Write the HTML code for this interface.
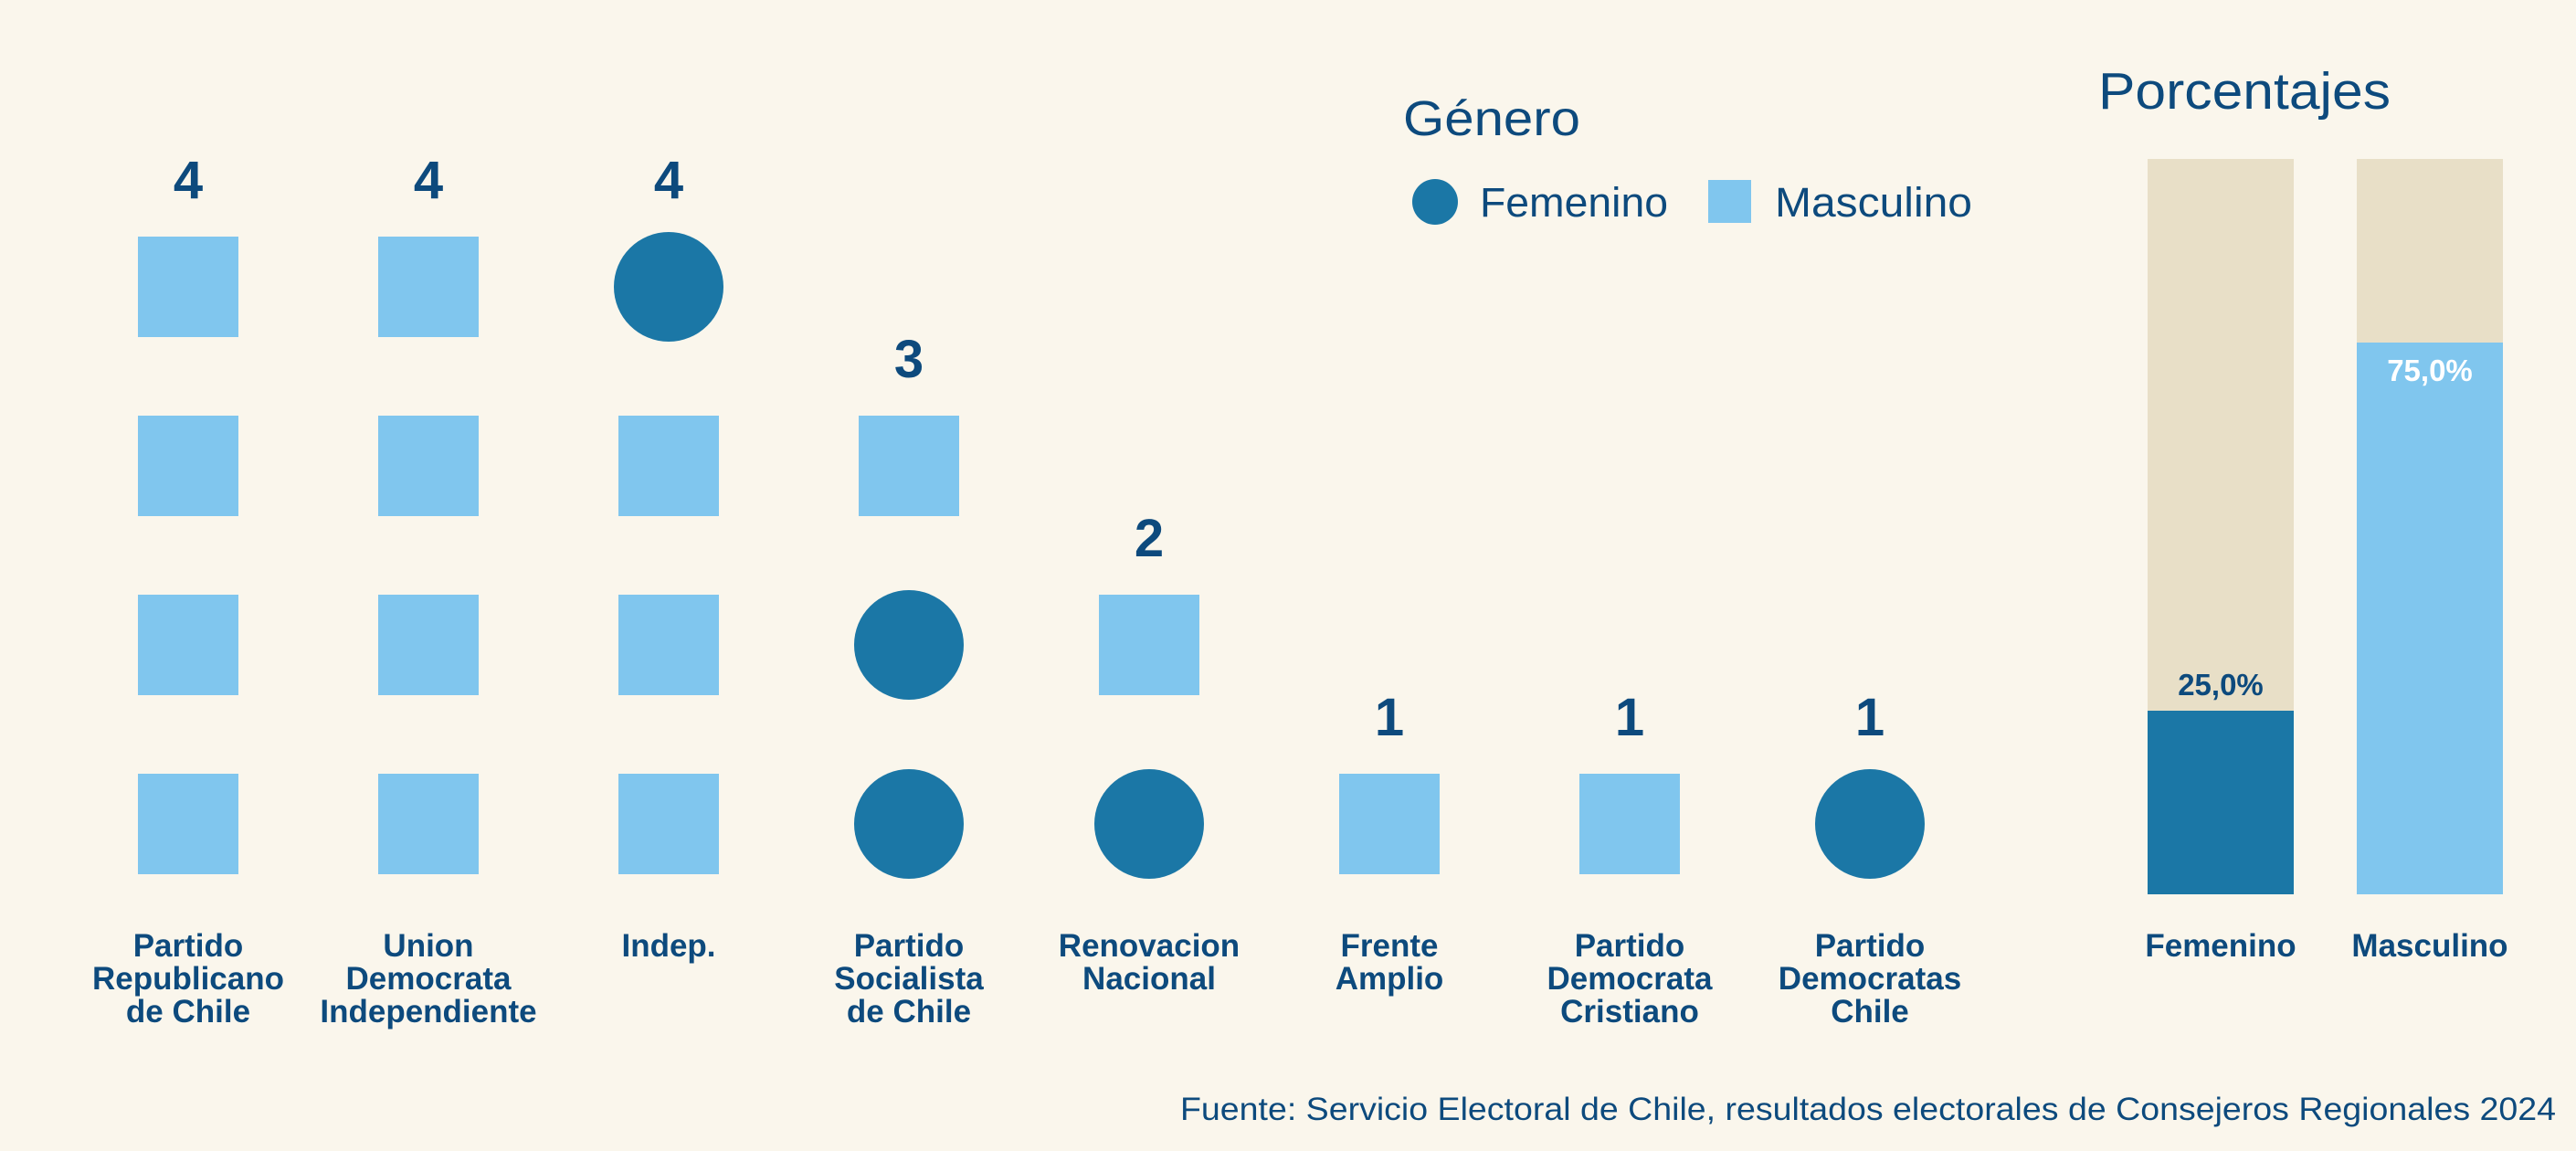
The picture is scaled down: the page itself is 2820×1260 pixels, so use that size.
<!DOCTYPE html>
<html><head><meta charset="utf-8"><style>
html,body{margin:0;padding:0;background:#faf6ec;}
svg{display:block;}
text{font-family:"Liberation Sans",sans-serif;fill:#0d4a7d;}
.b{font-weight:bold;}
</style></head><body>
<svg width="2820" height="1260" viewBox="0 0 2820 1260" xmlns="http://www.w3.org/2000/svg">
<rect width="2820" height="1260" fill="#faf6ec"/>
<g fill="#80c6ee">
<rect x="151" y="259" width="110" height="110"/><rect x="151" y="455" width="110" height="110"/><rect x="151" y="651" width="110" height="110"/><rect x="151" y="847" width="110" height="110"/>
<rect x="414" y="259" width="110" height="110"/><rect x="414" y="455" width="110" height="110"/><rect x="414" y="651" width="110" height="110"/><rect x="414" y="847" width="110" height="110"/>
<rect x="677" y="455" width="110" height="110"/><rect x="677" y="651" width="110" height="110"/><rect x="677" y="847" width="110" height="110"/>
<rect x="940" y="455" width="110" height="110"/>
<rect x="1203" y="651" width="110" height="110"/>
<rect x="1466" y="847" width="110" height="110"/><rect x="1729" y="847" width="110" height="110"/>
<rect x="1870" y="197" width="47" height="47"/>
<rect x="2580" y="375" width="160" height="604"/>
</g>
<g fill="#1b77a6">
<circle cx="732" cy="314" r="60"/>
<circle cx="995" cy="706" r="60"/><circle cx="995" cy="902" r="60"/>
<circle cx="1258" cy="902" r="60"/>
<circle cx="2047" cy="902" r="60"/>
<circle cx="1571" cy="221" r="25"/>
<rect x="2351" y="778" width="160" height="201"/>
</g>
<g fill="#e8dfc7">
<rect x="2351" y="174" width="160" height="604"/>
<rect x="2580" y="174" width="160" height="201"/>
</g>
<g class="b" font-size="58" text-anchor="middle">
<text x="206" y="217" class="b">4</text><text x="469" y="217" class="b">4</text><text x="732" y="217" class="b">4</text>
<text x="995" y="413" class="b">3</text><text x="1258" y="609" class="b">2</text>
<text x="1521" y="805" class="b">1</text><text x="1784" y="805" class="b">1</text><text x="2047" y="805" class="b">1</text>
</g>
<g font-size="35" text-anchor="middle">
<text class="b" x="206" y="1047">Partido</text><text class="b" x="206" y="1083">Republicano</text><text class="b" x="206" y="1119">de Chile</text>
<text class="b" x="469" y="1047">Union</text><text class="b" x="469" y="1083">Democrata</text><text class="b" x="469" y="1119">Independiente</text>
<text class="b" x="732" y="1047">Indep.</text>
<text class="b" x="995" y="1047">Partido</text><text class="b" x="995" y="1083">Socialista</text><text class="b" x="995" y="1119">de Chile</text>
<text class="b" x="1258" y="1047">Renovacion</text><text class="b" x="1258" y="1083">Nacional</text>
<text class="b" x="1521" y="1047">Frente</text><text class="b" x="1521" y="1083">Amplio</text>
<text class="b" x="1784" y="1047">Partido</text><text class="b" x="1784" y="1083">Democrata</text><text class="b" x="1784" y="1119">Cristiano</text>
<text class="b" x="2047" y="1047">Partido</text><text class="b" x="2047" y="1083">Democratas</text><text class="b" x="2047" y="1119">Chile</text>
<text class="b" x="2431" y="1047">Femenino</text><text class="b" x="2660" y="1047">Masculino</text>
</g>
<text class="b" x="2431" y="761" font-size="33" text-anchor="middle">25,0%</text>
<text class="b" x="2660" y="417" font-size="33" text-anchor="middle" style="fill:#ffffff">75,0%</text>
<text x="2297" y="119" font-size="57" textLength="320" lengthAdjust="spacingAndGlyphs">Porcentajes</text>
<text x="1536" y="148" font-size="54" textLength="194" lengthAdjust="spacingAndGlyphs">Género</text>
<text x="1620" y="237" font-size="45" textLength="206" lengthAdjust="spacingAndGlyphs">Femenino</text>
<text x="1943" y="237" font-size="45" textLength="216" lengthAdjust="spacingAndGlyphs">Masculino</text>
<text x="2798" y="1226" font-size="35" text-anchor="end" textLength="1506" lengthAdjust="spacingAndGlyphs">Fuente: Servicio Electoral de Chile, resultados electorales de Consejeros Regionales 2024</text>
</svg>
</body></html>
